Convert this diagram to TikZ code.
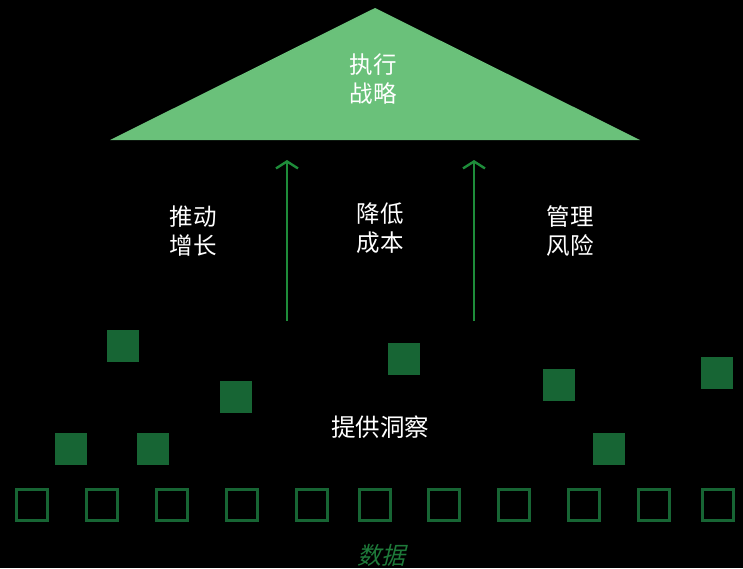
\documentclass[tikz,border=0pt]{standalone}
\usepackage{fontspec}
\newfontfamily\cjk{Noto Sans CJK SC}
\newfontfamily\cjkit[FakeSlant=0.25]{Noto Sans CJK SC}
\usetikzlibrary{arrows.meta}
\definecolor{trifill}{HTML}{6AC17A}
\definecolor{arrowgreen}{HTML}{1E8C3A}
\definecolor{boxgreen}{HTML}{176534}
\definecolor{datagreen}{HTML}{1E7A3A}
\begin{document}
\begin{tikzpicture}[x=1pt,y=-1pt,
  lbl/.style={text=white,font=\cjk\fontsize{23.5}{29}\selectfont,align=center,inner sep=0pt},
  upar/.style={draw=arrowgreen,line width=2.6pt,-{Straight Barb[length=7pt,width=22pt,line width=2.4pt]}},
  fbox/.style={fill=boxgreen,minimum size=32pt,inner sep=0pt,draw=none},
  obox/.style={draw=boxgreen,line width=2.4pt,minimum size=31pt,inner sep=0pt}]
\fill[black] (0,0) rectangle (743,568);
\useasboundingbox (0,0) rectangle (743,568);
% triangle
\fill[trifill] (375,8) coordinate (apex) -- (640,140) coordinate (br) -- (110,140) coordinate (bl) -- cycle;
\node[lbl] (top) at (373,79) {执行\\战略};
% arrows
\coordinate (a1s) at (287,321);
\coordinate (a1e) at (287,160);
\coordinate (a2s) at (474,321);
\coordinate (a2e) at (474,160);
\draw[upar] (a1s) -- (a1e);
\draw[upar] (a2s) -- (a2e);
% labels
\node[lbl] (l1) at (193,231) {推动\\增长};
\node[lbl] (l2) at (380,228) {降低\\成本};
\node[lbl] (l3) at (570,231) {管理\\风险};
\node[lbl,font=\cjk\fontsize{24.5}{29}\selectfont] (ins) at (380,427) {提供洞察};
% filled squares
\node[fbox] (f1) at (123,346) {};
\node[fbox] (f2) at (236,397) {};
\node[fbox] (f3) at (71,449) {};
\node[fbox] (f4) at (153,449) {};
\node[fbox] (f5) at (404,359) {};
\node[fbox] (f6) at (559,385) {};
\node[fbox] (f7) at (609,449) {};
\node[fbox] (f8) at (717,373) {};
% outline squares
\foreach \x [count=\i] in {32,102,172,242,312,375,444,514,584,654,718}
  \node[obox] (o\i) at (\x,505) {};
% data label
\node[text=datagreen,font=\cjkit\fontsize{24}{28}\selectfont,inner sep=0pt] (data) at (381,555) {数据};
\end{tikzpicture}
\end{document}
